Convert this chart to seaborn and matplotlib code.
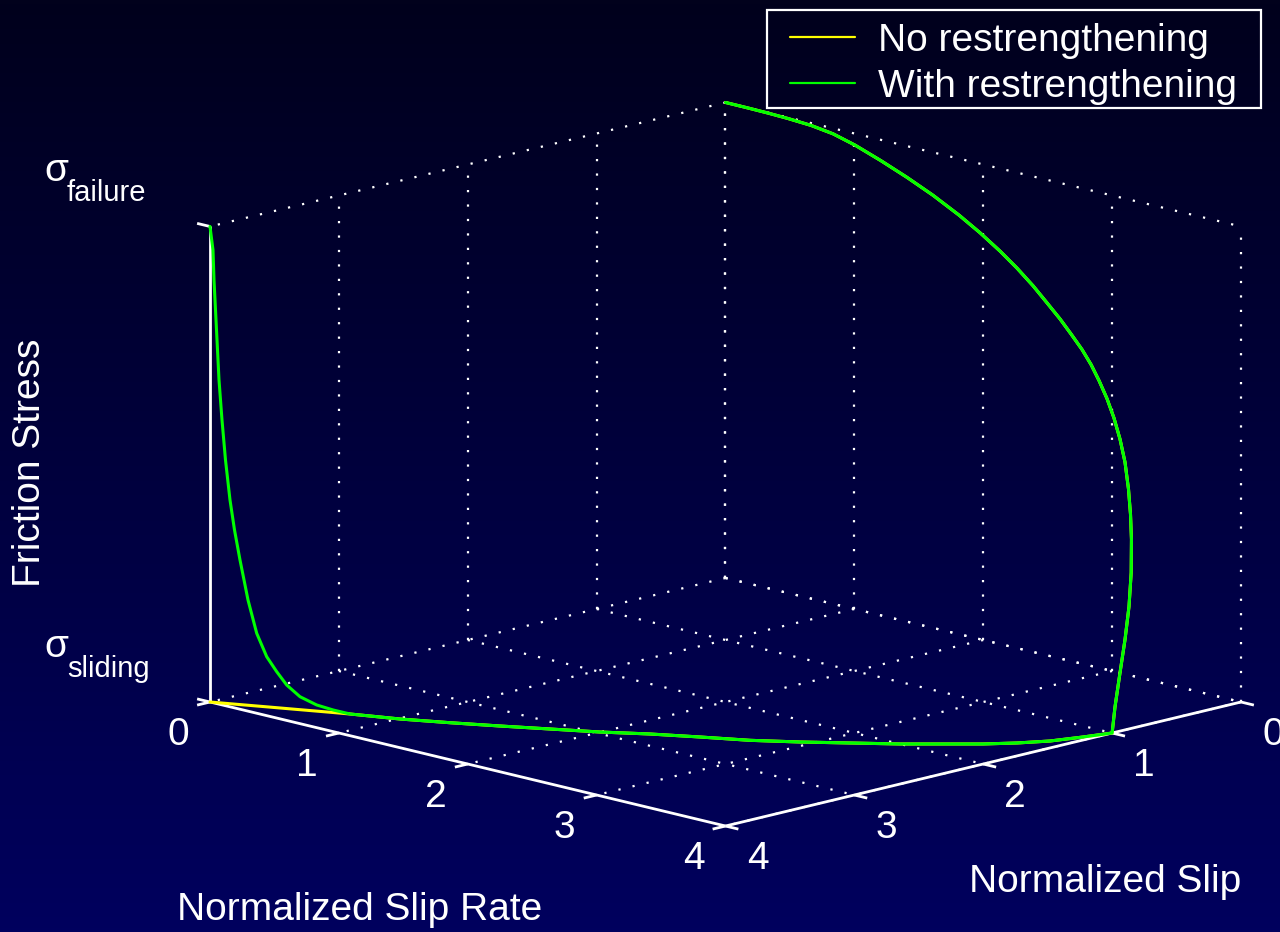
import numpy as np
import pandas as pd
import matplotlib
matplotlib.use("Agg")
import matplotlib.pyplot as plt
from matplotlib.colors import LinearSegmentedColormap
from matplotlib.lines import Line2D
from matplotlib.patches import Rectangle
from mpl_toolkits.mplot3d import proj3d
import seaborn as sns

# ---------------------------------------------------------------------------
# Data: friction stress path in (slip, slip rate, stress) space.
# Stress is normalised so that 0 = sliding level and 1 = failure level.
# ---------------------------------------------------------------------------
# weakening: stress drops from failure while the slip rate builds up
SLIP_RISE = [0.0, 0.0017, 0.006, 0.0132, 0.0252, 0.0407, 0.0603, 0.0892, 0.1249, 0.1679,
             0.2191, 0.267, 0.3185, 0.3672, 0.4176, 0.464, 0.5135, 0.5569, 0.6031, 0.643,
             0.6803, 0.7192, 0.7548, 0.7864, 0.8137, 0.8332, 0.8445, 0.85, 0.852, 0.8691,
             0.9001, 0.9389, 0.9777, 1.0]
RATE_RISE = [0.0, 0.1763, 0.3358, 0.4982, 0.6887, 0.8748, 1.0651, 1.2958, 1.5332, 1.778,
             2.031, 2.2418, 2.4485, 2.6291, 2.8036, 2.9555, 3.109, 3.2378, 3.3693, 3.4792,
             3.5785, 3.6794, 3.7693, 3.8475, 3.9136, 3.9603, 3.9871, 4.0, 4.0, 4.0,
             4.0, 4.0, 4.0, 4.0]
STRESS_RISE = [1.0, 1.0, 1.0, 0.9996, 0.9983, 0.9938, 0.9837, 0.9678, 0.9506, 0.9317,
               0.9098, 0.8896, 0.8679, 0.847, 0.8246, 0.8026, 0.781, 0.7606, 0.7395, 0.7177,
               0.6929, 0.664, 0.6313, 0.5942, 0.5518, 0.4992, 0.4489, 0.3974, 0.3279, 0.2573,
               0.1897, 0.1226, 0.0534, 0.0]

# sliding at the residual stress while the slip rate decays
SLIP_SLIDE = [1.1775, 1.37, 1.53, 1.678, 1.806, 2.0, 2.178, 2.356, 2.523, 2.663,
              2.809, 2.971, 3.116, 3.262, 3.403, 3.537, 3.65]
RATE_SLIDE = [3.9515, 3.888, 3.792, 3.676, 3.548, 3.354, 3.144, 2.934, 2.713, 2.466,
              2.223, 1.997, 1.755, 1.512, 1.265, 1.011, 0.737]

# restrengthening back to the failure stress as the fault locks
SLIP_HEAL = [3.6854, 3.7277, 3.7703, 3.8043, 3.8298, 3.8553, 3.8808, 3.903, 3.9132, 3.9234,
             3.9375, 3.949, 3.9605, 3.9694, 3.977, 3.9821, 3.9898, 3.9924, 4.0]
RATE_HEAL = [0.6421, 0.5557, 0.4687, 0.3994, 0.3474, 0.2953, 0.2432, 0.1979, 0.1771, 0.1562,
             0.1276, 0.1042, 0.0807, 0.0625, 0.0469, 0.0365, 0.0208, 0.0156, 0.0]
STRESS_HEAL = [0.0045, 0.0122, 0.0267, 0.049, 0.0753, 0.1051, 0.1526, 0.2211, 0.2625, 0.3038,
               0.366, 0.4283, 0.5116, 0.5951, 0.6788, 0.7625, 0.8882, 0.9511, 1.0]

# without restrengthening the fault stops at the sliding stress
SLIP_STOP = [3.70, 3.786, 3.857, 3.929, 4.0]
RATE_STOP = [0.63, 0.45, 0.3, 0.15, 0.0]

SLIP_TICKS = [0, 1, 2, 3, 4]
RATE_TICKS = [0, 1, 2, 3, 4]
STRESS_TICKS = [0.0, 1.0]
STRESS_SYMBOL = "σ"
STRESS_SUBSCRIPTS = ["sliding", "failure"]
SERIES_LABELS = ["No restrengthening", "With restrengthening"]
SERIES_COLORS = ["#ffff00", "#00ff00"]

X_LABEL = "Normalized Slip Rate"
Y_LABEL = "Normalized Slip"
Z_LABEL = "Friction Stress"

# ---------------------------------------------------------------------------
sns.set_theme(style="dark")
plt.rcParams["font.family"] = ["Liberation Sans", "DejaVu Sans"]
plt.rcParams["text.color"] = "white"
palette = sns.color_palette(SERIES_COLORS)

rise = pd.DataFrame({"slip": SLIP_RISE, "rate": RATE_RISE, "stress": STRESS_RISE})
slide = pd.DataFrame({"slip": SLIP_SLIDE, "rate": RATE_SLIDE, "stress": 0.0})
heal = pd.DataFrame({"slip": SLIP_HEAL, "rate": RATE_HEAL, "stress": STRESS_HEAL})
stop = pd.DataFrame({"slip": SLIP_STOP, "rate": RATE_STOP, "stress": 0.0})
paths = {
    SERIES_LABELS[0]: pd.concat([rise, slide, stop], ignore_index=True),
    SERIES_LABELS[1]: pd.concat([rise, slide, heal], ignore_index=True),
}

W, H = 1280, 932
BG_TOP, BG_BOTTOM = "#01011c", "#00005e"
FONT = 28

fig = plt.figure(figsize=(W / 100, H / 100), dpi=100)
fig.patch.set_facecolor(BG_TOP)

# vertical navy gradient behind everything
bg = fig.add_axes([0, 0, 1, 1], zorder=0)
bg.imshow(np.linspace(0, 1, 256)[:, None], aspect="auto",
          cmap=LinearSegmentedColormap.from_list("navy", [BG_TOP, BG_BOTTOM]),
          extent=(0, 1, 0, 1))
bg.set_axis_off()

side0 = 800.0
ax = fig.add_axes([(W / 2 - side0 / 2) / W, (H / 2 - side0 / 2) / H, side0 / W, side0 / H],
                  projection="3d", proj_type="ortho", computed_zorder=False, zorder=1)
ax.set_facecolor((0, 0, 0, 0))
ax.patch.set_visible(False)
xmax, ymax = max(SLIP_TICKS), max(RATE_TICKS)
zmin, zmax = min(STRESS_TICKS), max(STRESS_TICKS)
ax.set_xlim(0, xmax)
ax.set_ylim(0, ymax)
ax.set_zlim(zmin, zmax)
ax.set_box_aspect((1, 1, 0.672))
ax.view_init(elev=13.92, azim=45)
ax.set_axis_off()


def screen(x, y, z):
    xs, ys, _ = proj3d.proj_transform(x, y, z, ax.get_proj())
    return np.asarray(ax.transData.transform((float(xs), float(ys))))


# size the box so the floor spans the wanted width
fig.canvas.draw()
L0 = screen(xmax, 0, zmin)
R0 = screen(0, ymax, zmin)
Lt = np.array([210.0, H - 702.0])
Rt = np.array([1241.0, H - 702.0])
k = (Rt[0] - Lt[0]) / (R0[0] - L0[0])
c0 = np.array([W / 2, H / 2])
side = side0 * k
c = Lt - k * (L0 - c0)
ax.set_position([(c[0] - side / 2) / W, (c[1] - side / 2) / H, side / W, side / H])
fig.canvas.draw()

# dotted grid on the back walls and floor
grid_kw = dict(color="white", lw=1.6, ls=(0, (1, 5.5)), zorder=1)
for s in SLIP_TICKS[:-1]:
    ax.plot([s, s], [0, 0], [zmin, zmax], **grid_kw)
for r in RATE_TICKS:
    ax.plot([0, 0], [r, r], [zmin, zmax], **grid_kw)
for z in STRESS_TICKS:
    ax.plot([0, xmax], [0, 0], [z, z], **grid_kw)
    ax.plot([0, 0], [0, ymax], [z, z], **grid_kw)
for s in SLIP_TICKS[:-1]:
    ax.plot([s, s], [0, ymax], [zmin, zmin], **grid_kw)
for r in RATE_TICKS[1:]:
    ax.plot([0, xmax], [r, r], [zmin, zmin], **grid_kw)

# solid axis lines with outward ticks
axis_kw = dict(color="white", lw=2.0, zorder=2, solid_capstyle="butt")
tick = 0.1
ax.plot([xmax, xmax], [0, 0], [zmin, zmax], **axis_kw)
ax.plot([xmax, xmax], [0, ymax], [zmin, zmin], **axis_kw)
ax.plot([0, xmax], [ymax, ymax], [zmin, zmin], **axis_kw)
for r in RATE_TICKS:
    ax.plot([xmax, xmax + tick], [r, r], [zmin, zmin], **axis_kw)
for s in SLIP_TICKS:
    ax.plot([s, s], [ymax, ymax + tick], [zmin, zmin], **axis_kw)
for z in STRESS_TICKS:
    ax.plot([xmax, xmax], [0, -tick], [z, z], **axis_kw)

# the two stress paths
for i, (name, df) in enumerate(paths.items()):
    ax.plot(df["slip"], df["rate"], df["stress"], color=palette[i], lw=2.2,
            zorder=3 + i, label=name, solid_joinstyle="round")


def put(x, y, z, text, dx, dy, **kw):
    px, py = screen(x, y, z)
    fig.text((px + dx) / W, (py - dy) / H, text, **kw)


for r in RATE_TICKS:
    put(xmax, r, zmin, f"{r:g}", -32, 33, ha="center", va="center", fontsize=FONT)
for s in SLIP_TICKS:
    put(s, ymax, zmin, f"{s:g}", 32, 33, ha="center", va="center", fontsize=FONT)
for z, sub in zip(STRESS_TICKS, STRESS_SUBSCRIPTS):
    put(xmax, 0, z, STRESS_SYMBOL, -166, -45, ha="left", va="baseline", fontsize=FONT)
    put(xmax, 0, z, sub, -143, -25, ha="left", va="baseline", fontsize=21)

fig.text(360 / W, 1 - 910 / H, X_LABEL, ha="center", va="center", fontsize=FONT)
fig.text(1105 / W, 1 - 882 / H, Y_LABEL, ha="center", va="center", fontsize=FONT)
fig.text(30 / W, 1 - 463 / H, Z_LABEL, ha="center", va="center", rotation=90, fontsize=FONT)

# legend with a plain white box
fig.add_artist(Rectangle((767 / W, 1 - 108 / H), (1261 - 767) / W, (108 - 10) / H,
                         transform=fig.transFigure, fill=False, ec="white", lw=1.6, zorder=6))
handles = [Line2D([], [], color=palette[i], lw=1.6) for i in range(2)]
leg = fig.legend(handles, SERIES_LABELS, loc="upper left",
                 bbox_to_anchor=(790 / W, 1 - 23 / H), bbox_transform=fig.transFigure,
                 frameon=False, fontsize=FONT, handlelength=1.67, handletextpad=0.59,
                 borderpad=0, labelspacing=0.25, borderaxespad=0)
for t in leg.get_texts():
    t.set_color("white")

fig.savefig("out.png", dpi=100, facecolor=fig.get_facecolor())
